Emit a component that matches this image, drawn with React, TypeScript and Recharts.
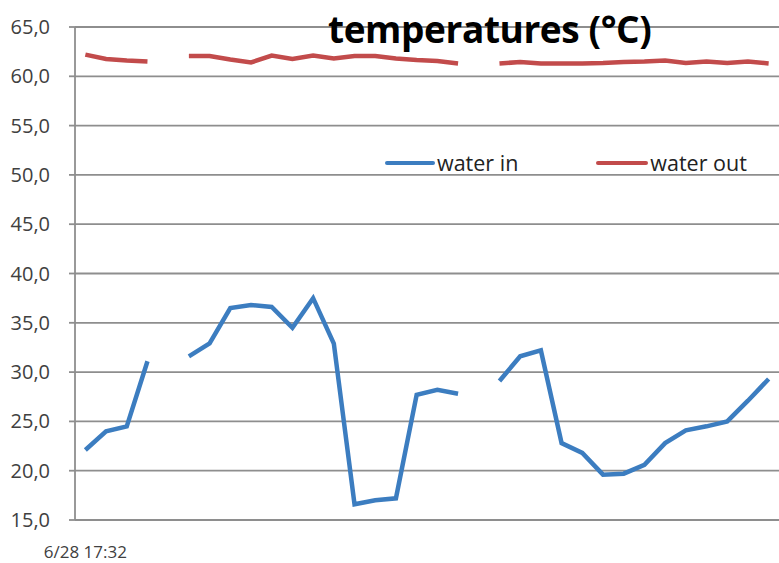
import { LineChart, Line, XAxis, YAxis, CartesianGrid } from "recharts";

const timeLabels = ["6/28 17:32"];

const waterIn: (number | null)[] = [
  22.1, 24.0, 24.5, 31.1, null, 31.6, 32.9, 36.5, 36.8, 36.6, 34.5, 37.5,
  32.9, 16.6, 17.0, 17.2, 27.7, 28.2, 27.8, null, 29.1, 31.6, 32.2, 22.8,
  21.8, 19.6, 19.7, 20.6, 22.8, 24.1, 24.5, 25.0, 27.1, 29.3,
];

const waterOut: (number | null)[] = [
  62.2, 61.75, 61.6, 61.5, null, 62.05, 62.05, 61.7, 61.4, 62.1, 61.75, 62.1,
  61.8, 62.05, 62.05, 61.8, 61.65, 61.55, 61.3, null, 61.3, 61.45, 61.3, 61.3,
  61.3, 61.35, 61.45, 61.5, 61.6, 61.35, 61.5, 61.35, 61.5, 61.3,
];

const yTicks = [15, 20, 25, 30, 35, 40, 45, 50, 55, 60, 65];

const BLUE = "#3c7dc0";
const RED = "#c24b4b";
const GRID = "#8e8e8e";

const data = waterIn.map((v, i) => ({
  idx: i,
  waterIn: v,
  waterOut: waterOut[i],
}));

const XTick = ({ x, y, payload }: any) => (
  <text
    x={x}
    y={y + 30}
    textAnchor="middle"
    fontSize={17}
    fill="#404040"
    fontFamily="'Open Sans', sans-serif"
  >
    {timeLabels[payload.value] ?? ""}
  </text>
);

const YTick = ({ x, y, payload }: any) => (
  <text
    x={x - 17}
    y={y}
    dy={7}
    textAnchor="end"
    fontSize={20}
    fill="#404040"
    fontFamily="'Open Sans', sans-serif"
  >
    {payload.value.toFixed(1).replace(".", ",")}
  </text>
);

export default function App() {
  return (
    <div
      style={{
        position: "absolute",
        left: 0,
        top: 0,
        width: 779,
        height: 563,
        background: "#fff",
        fontFamily: "'Open Sans', sans-serif",
      }}
    >
      <LineChart
        width={779}
        height={563}
        data={data}
        margin={{ top: 27, right: 0, left: 0, bottom: 0 }}
      >
        <CartesianGrid
          horizontal
          vertical={false}
          stroke={GRID}
          strokeWidth={1.8}
        />
        <XAxis
          dataKey="idx"
          type="number"
          domain={[-0.5, 33.5]}
          ticks={[0]}
          tick={<XTick />}
          tickLine={false}
          axisLine={{ stroke: GRID, strokeWidth: 1.8 }}
          height={43}
        />
        <YAxis
          domain={[15, 65]}
          ticks={yTicks}
          width={75}
          tickSize={6}
          tickLine={{ stroke: GRID, strokeWidth: 1.8 }}
          axisLine={{ stroke: GRID, strokeWidth: 1.8 }}
          tick={<YTick />}
          interval={0}
        />
        <Line
          type="linear"
          dataKey="waterIn"
          stroke={BLUE}
          strokeWidth={4.5}
          dot={false}
          connectNulls={false}
          isAnimationActive={false}
        />
        <Line
          type="linear"
          dataKey="waterOut"
          stroke={RED}
          strokeWidth={4.5}
          dot={false}
          connectNulls={false}
          isAnimationActive={false}
        />
      </LineChart>
      <div
        style={{
          position: "absolute",
          left: 328,
          top: 3,
          fontSize: 37,
          fontWeight: 700,
          color: "#000",
          fontFamily: "'Open Sans', sans-serif",
          letterSpacing: -0.4,
          whiteSpace: "nowrap",
        }}
      >
        temperatures (°C)
      </div>
      <div
        style={{
          position: "absolute",
          left: 385,
          top: 148,
          display: "flex",
          alignItems: "center",
          fontSize: 21.5,
          color: "#222",
          whiteSpace: "nowrap",
        }}
      >
        <span
          style={{ width: 50, height: 4, background: BLUE, borderRadius: 2 }}
        />
        <span style={{ marginLeft: 2 }}>water in</span>
        <span
          style={{
            width: 52,
            height: 4,
            background: RED,
            borderRadius: 2,
            marginLeft: 78,
          }}
        />
        <span style={{ marginLeft: 2 }}>water out</span>
      </div>
    </div>
  );
}
